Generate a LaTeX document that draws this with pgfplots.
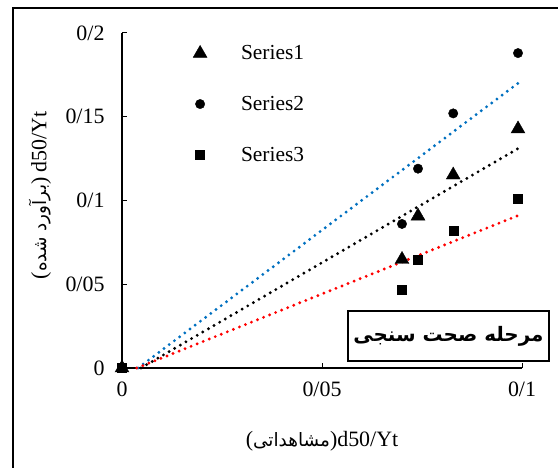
\documentclass[border=0pt]{standalone}
\usepackage{fontspec}
\setmainfont{Liberation Serif}
\newfontfamily\arabicfont[Script=Arabic]{DejaVu Sans}
\TeXXeTstate=1
\usepackage{pgfplots}
\pgfplotsset{compat=1.18}
\definecolor{xlblue}{RGB}{0,112,192}
\definecolor{xlred}{RGB}{255,0,0}

\begin{document}
\begin{tikzpicture}[x=1bp,y=1bp]
\begin{axis}[
  at={(0,0)}, anchor=south west,
  scale only axis, width=400bp, height=335bp,
  xmin=0, xmax=0.1, ymin=0, ymax=0.2,
  clip=false,
  axis lines*=left,
  axis line style={-, line width=1.3bp, black},
  xtick={0,0.05,0.1}, ytick={0,0.05,0.1,0.15,0.2},
  xticklabels={0,0/05,0/1}, yticklabels={0,0/05,0/1,0/15,0/2},
  tick align=inside, major tick length=5bp,
  tick style={line width=1bp, black},
  /pgf/number format/assume math mode=true,
  ticklabel style={font=\fontsize{22}{26}\selectfont},
  xticklabel style={yshift=-10bp},
  yticklabel style={xshift=-14bp},
  every axis y label/.style={at={(axis description cs:-0.205,0.516)}, rotate=90, anchor=center},
  every axis x label/.style={at={(axis description cs:0.5,-0.22)}, anchor=center},
  label style={font=\fontsize{22}{26}\selectfont},
  xlabel={({\arabicfont\fontsize{18.5}{22}\selectfont\beginR مشاهداتی\endR})d50/Yt},
  ylabel={({\arabicfont\fontsize{18.5}{22}\selectfont\beginR برآورد شده\endR}) d50/Yt},
  legend style={at={(axis description cs:0.17,0.975)}, anchor=north west,
    draw=none, fill=none, font=\fontsize{21.5}{25}\selectfont,
    row sep=31bp, column sep=32bp},
  legend cell align=left,
]
% trendlines
\addplot[forget plot, xlblue, line width=3.2bp, line cap=round, dash pattern=on 0pt off 6.5bp]
  coordinates {(0.0040,0) (0.099,0.170)};
\addplot[forget plot, black, line width=3.2bp, line cap=round, dash pattern=on 0pt off 6.5bp]
  coordinates {(0.00475,0) (0.099,0.131)};
\addplot[forget plot, xlred, line width=3.2bp, line cap=round, dash pattern=on 0pt off 6.5bp]
  coordinates {(0.0037,0) (0.099,0.091)};
% series
\addplot[only marks, mark=triangle*, mark size=8bp, black, fill=black]
  coordinates {(0,0) (0.070,0.0648) (0.074,0.0907) (0.0828,0.1152) (0.099,0.1427)};
\addlegendentry{Series1}
\addplot[only marks, mark=*, mark size=4.7bp, black, fill=black]
  coordinates {(0,0) (0.070,0.086) (0.074,0.119) (0.0828,0.152) (0.099,0.188)};
\addlegendentry{Series2}
\addplot[only marks, mark=square*, mark size=4.5bp, black, fill=black]
  coordinates {(0,0) (0.070,0.0465) (0.074,0.0645) (0.0828,0.082) (0.099,0.101)};
\addlegendentry{Series3}
\end{axis}
\node[draw=black, fill=white, line width=1.3bp, minimum width=201bp, minimum height=50bp,
  inner sep=0pt, font=\arabicfont\bfseries\fontsize{20}{24}\selectfont]
  at (326.5,32) {\beginR مرحله صحت سنجی\endR};
\draw[line width=2bp] (-109,-110) -- (-109,360) -- (446,360);
\pgfresetboundingbox
\path[use as bounding box] (-122,-100) rectangle (436,368);
\end{tikzpicture}
\end{document}
